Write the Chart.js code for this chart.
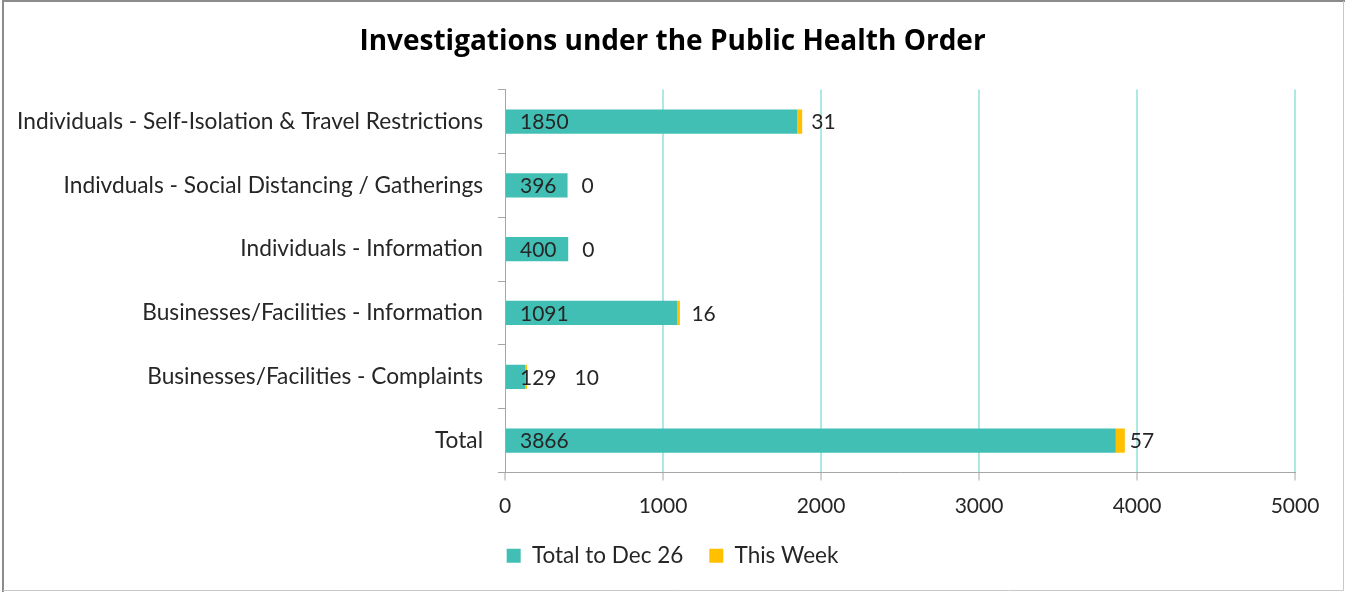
<!DOCTYPE html>
<html>
<head>
<meta charset="utf-8">
<script src="https://cdn.jsdelivr.net/npm/chart.js@4.4.0/dist/chart.umd.min.js"></script>
<style>
  html, body { margin: 0; padding: 0; background: #fff; }
  #wrap { width: 1345px; height: 592px; position: relative; }
</style>
</head>
<body>
<div id="wrap"><canvas id="chart" width="1345" height="592"></canvas></div>
<script>
const CATEGORIES = [
    "Individuals - Self-Isolation & Travel Restrictions",
    "Indivduals - Social Distancing / Gatherings",
    "Individuals - Information",
    "Businesses/Facilities - Information",
    "Businesses/Facilities - Complaints",
    "Total"
];
const TOTAL_TO_DATE = [1850, 396, 400, 1091, 129, 3866];
const THIS_WEEK     = [31, 0, 0, 16, 10, 57];
const X_TICKS       = [0, 1000, 2000, 3000, 4000, 5000];

const FONT = "Lato, Carlito, Calibri, sans-serif";
const TITLE_FONT = "'Open Sans', 'Noto Sans', sans-serif";
const TEXT = "#262626";
const AXIS = "#a6a6a6";

// frame round the whole picture
const framePlugin = {
    id: "frame",
    afterDraw(chart) {
        const ctx = chart.ctx;
        ctx.save();
        ctx.strokeStyle = "#8c8c8c";
        ctx.lineWidth = 2;
        ctx.beginPath();
        ctx.moveTo(3, 592); ctx.lineTo(3, 1); ctx.lineTo(1345, 1);
        ctx.stroke();
        ctx.strokeStyle = "#c8c8c8";
        ctx.lineWidth = 1;
        ctx.beginPath();
        ctx.moveTo(1343.5, 1); ctx.lineTo(1343.5, 590.5); ctx.lineTo(3, 590.5);
        ctx.stroke();
        ctx.restore();
    }
};

// value labels: totals inside base, weekly count after the bar
const labelPlugin = {
    id: "valueLabels",
    afterDatasetsDraw(chart) {
        const ctx = chart.ctx;
        const m0 = chart.getDatasetMeta(0);
        const m1 = chart.getDatasetMeta(1);
        ctx.save();
        ctx.font = "21px " + FONT;
        ctx.fillStyle = TEXT;
        ctx.textBaseline = "middle";
        ctx.textAlign = "left";
        m0.data.forEach((bar, i) => {
            const t = String(TOTAL_TO_DATE[i]);
            const x0 = bar.base + 14;
            ctx.fillText(t, x0, bar.y + 1);
            const right = x0 + ctx.measureText(t).width;
            const seg = m1.data[i];
            const x1 = Math.max(seg.base + 14, right + 18);
            ctx.fillText(String(THIS_WEEK[i]), x1, seg.y + 1);
        });
        ctx.restore();
    }
};

new Chart(document.getElementById("chart"), {
    type: "bar",
    data: {
        labels: CATEGORIES,
        datasets: [
            { label: "Total to Dec 26", data: TOTAL_TO_DATE, backgroundColor: "#41bfb5",
              barPercentage: 0.38, categoryPercentage: 1.0 },
            { label: "This Week", data: THIS_WEEK, backgroundColor: "#ffc000",
              barPercentage: 0.38, categoryPercentage: 1.0 }
        ]
    },
    options: {
        indexAxis: "y",
        responsive: false,
        animation: false,
        layout: { padding: { top: 0, left: 0, right: 0, bottom: 15 } },
        plugins: {
            title: {
                display: true,
                text: "Investigations under the Public Health Order",
                color: "#000",
                font: { family: TITLE_FONT, size: 28, weight: "bold" },
                padding: { top: 25, bottom: 31 }
            },
            legend: {
                position: "bottom",
                labels: {
                    color: TEXT,
                    font: { family: FONT, size: 22.5 },
                    boxWidth: 14,
                    boxHeight: 14,
                    padding: 26
                }
            },
            tooltip: { enabled: false }
        },
        scales: {
            x: {
                stacked: true,
                min: 0,
                max: 5000,
                afterBuildTicks: scale => { scale.ticks = X_TICKS.map(v => ({ value: v })); },
                afterFit: scale => { scale.height = 46; },
                grid: {
                    color: ctx => ctx.index === 0 ? "rgba(0,0,0,0)" : "#ade9e3",
                    lineWidth: 2,
                    tickColor: AXIS,
                    tickLength: 8,
                    tickWidth: 1
                },
                border: { color: AXIS, width: 1 },
                ticks: {
                    color: TEXT,
                    font: { family: FONT, size: 21 },
                    padding: 13,
                    callback: v => String(v)
                }
            },
            y: {
                stacked: true,
                afterFit: scale => { scale.width = 505; },
                grid: {
                    drawOnChartArea: false,
                    tickColor: AXIS,
                    tickLength: 7,
                    offset: true
                },
                border: { color: AXIS, width: 1 },
                ticks: { color: TEXT, font: { family: FONT, size: 22.7 }, padding: 15 }
            },
            // empty right-hand margin, so title and legend centre on the whole picture
            spacer: {
                type: "category",
                axis: "y",
                position: "right",
                afterFit: scale => { scale.width = 50; },
                grid: { display: false },
                border: { display: false },
                ticks: { display: false }
            }
        }
    },
    plugins: [framePlugin, labelPlugin]
});
</script>
</body>
</html>
